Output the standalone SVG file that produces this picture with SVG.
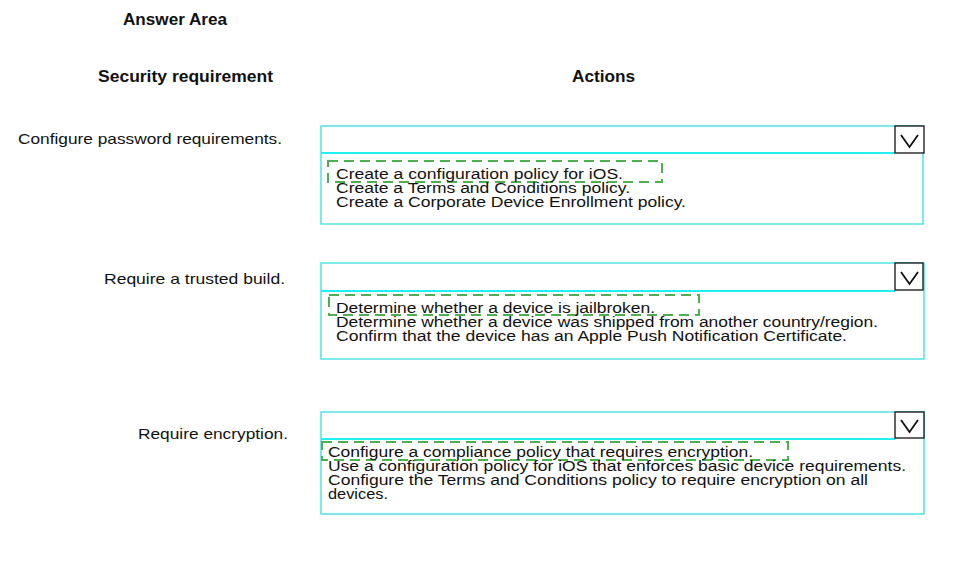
<svg xmlns="http://www.w3.org/2000/svg" width="964" height="565" viewBox="0 0 964 565">
<style>
text{font-family:"Liberation Sans",Arial,sans-serif;fill:#111}
.h{font-weight:bold;font-size:16px}
.lbl{font-size:15px;text-anchor:end}
.opt{font-size:14px}
.box{fill:#fff;stroke:#4fe3e3;stroke-width:1.5}
.div{stroke:#1ff0f0;stroke-width:2}
.btn{fill:#fff;stroke:#111;stroke-width:1.3}
.chev{fill:none;stroke:#111;stroke-width:1.8}
.sel{fill:none;stroke:#4caf50;stroke-width:2;stroke-dasharray:10 6}
</style>
<rect width="964" height="565" fill="#fff"/>
<g id="headers">
<text class="h" x="123" y="25" textLength="104" lengthAdjust="spacingAndGlyphs">Answer Area</text>
<text class="h" x="98" y="82" textLength="175" lengthAdjust="spacingAndGlyphs">Security requirement</text>
<text class="h" x="572" y="82" textLength="63" lengthAdjust="spacingAndGlyphs">Actions</text>
</g>
<g id="row1">
<text class="lbl" x="282" y="144" textLength="264" lengthAdjust="spacingAndGlyphs">Configure password requirements.</text>
<rect class="box" x="321" y="126" width="602" height="98"/>
<line class="div" x1="321" y1="153" x2="895" y2="153"/>
<rect class="btn" x="895" y="126" width="29" height="27"/>
<polyline class="chev" points="901,135 909.5,147 918,135"/>
<rect class="sel" x="328" y="161" width="334" height="21"/>
<text class="opt" x="336" y="179" textLength="287" lengthAdjust="spacingAndGlyphs">Create a configuration policy for iOS.</text>
<text class="opt" x="336" y="193" textLength="294" lengthAdjust="spacingAndGlyphs">Create a Terms and Conditions policy.</text>
<text class="opt" x="336" y="207" textLength="350" lengthAdjust="spacingAndGlyphs">Create a Corporate Device Enrollment policy.</text>
</g>
<g id="row2">
<text class="lbl" x="285" y="284" textLength="181" lengthAdjust="spacingAndGlyphs">Require a trusted build.</text>
<rect class="box" x="321" y="263" width="603" height="96"/>
<line class="div" x1="321" y1="291" x2="895" y2="291"/>
<rect class="btn" x="895" y="263" width="28" height="27"/>
<polyline class="chev" points="901,272 909.5,284 918,272"/>
<rect class="sel" x="329" y="295" width="370" height="20"/>
<text class="opt" x="336" y="313" textLength="319" lengthAdjust="spacingAndGlyphs">Determine whether a device is jailbroken.</text>
<text class="opt" x="336" y="327" textLength="542" lengthAdjust="spacingAndGlyphs">Determine whether a device was shipped from another country/region.</text>
<text class="opt" x="336" y="341" textLength="511" lengthAdjust="spacingAndGlyphs">Confirm that the device has an Apple Push Notification Certificate.</text>
</g>
<g id="row3">
<text class="lbl" x="288" y="439" textLength="150" lengthAdjust="spacingAndGlyphs">Require encryption.</text>
<rect class="box" x="321" y="412" width="603" height="102"/>
<line class="div" x1="321" y1="439" x2="895" y2="439"/>
<rect class="btn" x="895" y="412" width="29" height="26"/>
<polyline class="chev" points="901,420 909.5,432 918,420"/>
<rect class="sel" x="322" y="442" width="466" height="18"/>
<text class="opt" x="328" y="457" textLength="425" lengthAdjust="spacingAndGlyphs">Configure a compliance policy that requires encryption.</text>
<text class="opt" x="328" y="471" textLength="578" lengthAdjust="spacingAndGlyphs">Use a configuration policy for iOS that enforces basic device requirements.</text>
<text class="opt" x="328" y="485" textLength="540" lengthAdjust="spacingAndGlyphs">Configure the Terms and Conditions policy to require encryption on all</text>
<text class="opt" x="328" y="499" textLength="60" lengthAdjust="spacingAndGlyphs">devices.</text>
</g>
</svg>
